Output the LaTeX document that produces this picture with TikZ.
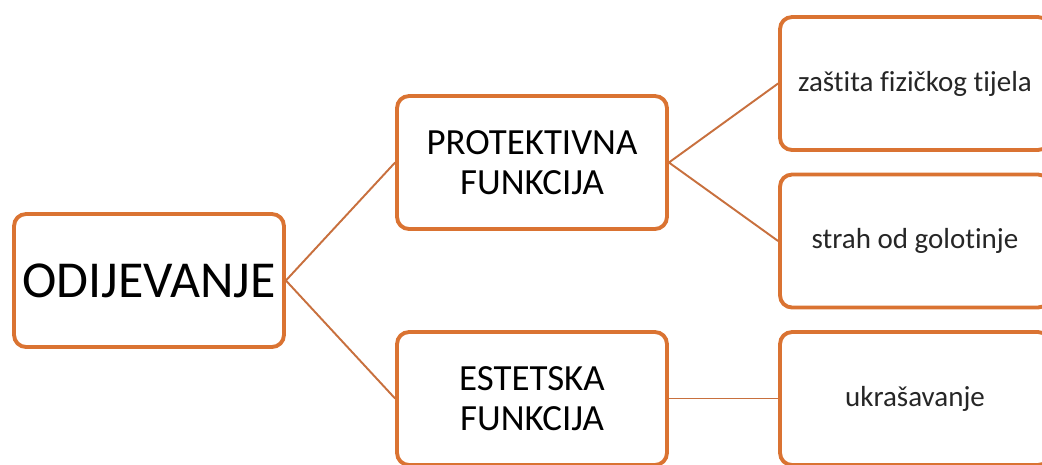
\documentclass[tikz,border=0pt]{standalone}
\usepackage{fontspec}
\setmainfont{Carlito}[Ligatures=NoCommon]
\usetikzlibrary{positioning}
\definecolor{boxorange}{RGB}{218,115,50}
\definecolor{linkorange}{RGB}{200,112,62}

\begin{document}
\begin{tikzpicture}[x=0.02cm,y=-0.02cm,
    box/.style={draw=boxorange, line width=2.2pt, rounded corners=0.24cm,
      fill=white, minimum width=5.4cm, minimum height=2.66cm, align=center},
    link/.style={draw=linkorange, line width=1.1pt}]

      \useasboundingbox (0,0) rectangle (1042,464);

      % root
      \node[box, font=\fontsize{29.5}{35}\selectfont] (odij) at (149,280.5) {ODIJEVANJE};

      % functions
      \node[box, font=\fontsize{21}{23}\selectfont] (prot) at (532,162.5) {PROTEKTIVNA\\FUNKCIJA};
      \node[box, font=\fontsize{21}{23}\selectfont] (estet) at (532,398.5) {ESTETSKA\\FUNKCIJA};

      % leaves
      \node[box, font=\fontsize{16.5}{19}\selectfont, text=black!85] (zast) at (915,83.5) {zaštita fizičkog tijela};
      \node[box, font=\fontsize{16.5}{19}\selectfont, text=black!85] (strah) at (915,241) {strah od golotinje};
      \node[box, font=\fontsize{16.5}{19}\selectfont, text=black!85] (ukras) at (915,398.5) {ukrašavanje};

      \draw[link] (odij.east) -- (prot.west) (odij.east) -- (estet.west);
      \draw[link] (prot.east) -- (zast.west) (prot.east) -- (strah.west);
      \draw[link] (estet.east) -- (ukras.west);

    \end{tikzpicture}
\end{document}
